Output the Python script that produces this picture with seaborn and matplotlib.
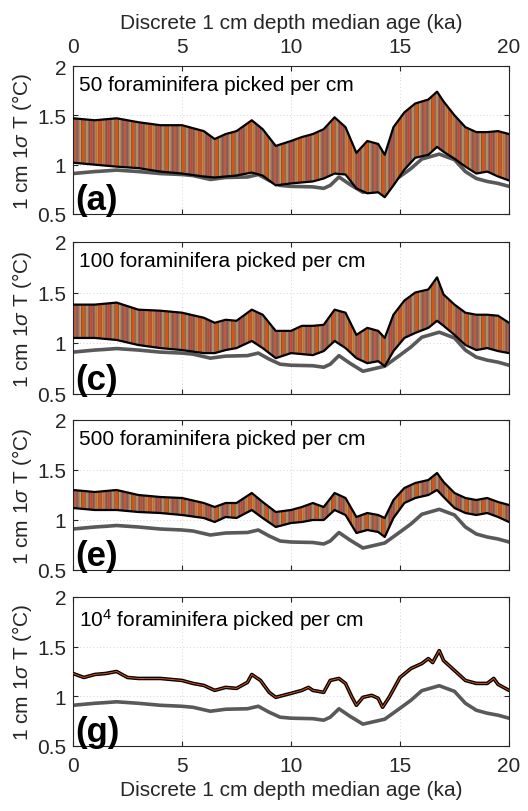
import matplotlib
matplotlib.use("Agg")
import pandas as pd
import matplotlib.pyplot as plt
import seaborn as sns

# ages (ka) at which the ensemble envelopes were read
age = [0, 1, 2, 3, 4, 5, 6, 6.5, 7, 7.5, 8.2, 8.7, 9.3, 10, 10.5, 11, 11.5, 12,
       12.5, 13, 13.5, 14, 14.3, 14.7, 15.2, 15.7, 16.3, 16.7, 17, 17.5, 18,
       18.5, 19, 19.5, 20]

# (a) 50 foraminifera
upper_a = [1.47, 1.45, 1.47, 1.43, 1.40, 1.40, 1.34, 1.26, 1.31, 1.34, 1.45,
           1.36, 1.19, 1.24, 1.28, 1.31, 1.36, 1.48, 1.38, 1.12, 1.24, 1.21,
           1.10, 1.38, 1.53, 1.62, 1.66, 1.74, 1.64, 1.50, 1.38, 1.33, 1.33,
           1.34, 1.31]
lower_a = [1.02, 1.00, 0.98, 0.965, 0.93, 0.91, 0.88, 0.87, 0.88, 0.89, 0.92,
           0.89, 0.79, 0.81, 0.82, 0.83, 0.86, 0.91, 0.90, 0.76, 0.71, 0.72,
           0.67, 0.79, 0.95, 1.07, 1.10, 1.18, 1.13, 1.06, 0.98, 0.91, 0.93,
           0.88, 0.84]

# (c) 100 foraminifera
upper_c = [1.38, 1.38, 1.40, 1.33, 1.32, 1.30, 1.25, 1.20, 1.23, 1.22, 1.33,
           1.28, 1.12, 1.12, 1.17, 1.17, 1.18, 1.33, 1.30, 1.08, 1.15, 1.12,
           1.05, 1.28, 1.42, 1.50, 1.53, 1.65, 1.48, 1.38, 1.30, 1.28, 1.28,
           1.27, 1.20]
lower_c = [1.05, 1.05, 1.03, 0.98, 0.95, 0.93, 0.90, 0.90, 0.93, 0.95, 1.02,
           0.95, 0.85, 0.90, 0.89, 0.88, 0.92, 1.02, 0.95, 0.85, 0.80, 0.82,
           0.77, 0.92, 1.05, 1.10, 1.15, 1.22, 1.17, 1.08, 0.98, 0.93, 0.95,
           0.92, 0.90]

# (e) 500 foraminifera
upper_e = [1.30, 1.28, 1.30, 1.25, 1.23, 1.22, 1.17, 1.13, 1.17, 1.17, 1.27,
           1.18, 1.08, 1.10, 1.13, 1.17, 1.13, 1.27, 1.22, 1.03, 1.07, 1.05,
           1.02, 1.20, 1.32, 1.37, 1.40, 1.47, 1.38, 1.27, 1.22, 1.20, 1.22,
           1.18, 1.15]
lower_e = [1.12, 1.10, 1.10, 1.08, 1.07, 1.05, 1.02, 0.98, 1.03, 1.02, 1.10,
           1.02, 0.93, 0.97, 0.98, 1.00, 1.00, 1.10, 1.05, 0.87, 0.90, 0.88,
           0.83, 1.02, 1.17, 1.22, 1.25, 1.30, 1.23, 1.12, 1.07, 1.05, 1.07,
           1.03, 0.98]

# (g) 10^4 foraminifera (ensemble collapses to one trace)
age_g = [0, 0.5, 1, 1.5, 2, 2.5, 3, 4, 5, 5.5, 6, 6.5, 7, 7.5, 8, 8.2, 8.6, 9,
         9.3, 10, 10.5, 10.8, 11, 11.5, 11.8, 12.2, 12.5, 12.8, 13, 13.3, 13.7,
         14, 14.2, 14.5, 15, 15.5, 16, 16.3, 16.5, 16.8, 17, 17.5, 18, 18.5,
         19, 19.3, 19.5, 20]
line_g = [1.23, 1.19, 1.22, 1.23, 1.25, 1.19, 1.18, 1.18, 1.16, 1.13, 1.11,
          1.06, 1.09, 1.08, 1.14, 1.22, 1.16, 1.04, 0.99, 1.03, 1.06, 1.09,
          1.06, 1.04, 1.16, 1.18, 1.13, 0.99, 0.91, 0.99, 1.01, 0.98, 0.89,
          0.99, 1.19, 1.28, 1.33, 1.38, 1.34, 1.46, 1.36, 1.26, 1.16, 1.13,
          1.13, 1.18, 1.12, 1.06]

# reference (gray) curve, identical in every panel
age_ref = [0, 1, 1.5, 2, 3, 4, 5, 5.5, 6.3, 7, 8, 8.5, 9, 9.5, 10, 11, 11.5,
           11.8, 12.2, 12.7, 13.3, 14.3, 15, 15.5, 16, 16.8, 17.5, 18, 18.5,
           19, 19.5, 20]
ref_line = [0.91, 0.93, 0.937, 0.945, 0.93, 0.91, 0.90, 0.89, 0.85, 0.87,
            0.875, 0.90, 0.84, 0.79, 0.78, 0.775, 0.76, 0.79, 0.875, 0.80,
            0.72, 0.77, 0.88, 0.96, 1.057, 1.107, 1.05, 0.93, 0.86, 0.83,
            0.81, 0.78]

notes = ["50 foraminifera picked per cm", "100 foraminifera picked per cm",
         "500 foraminifera picked per cm", "10$^4$ foraminifera picked per cm"]
letters = ["(a)", "(c)", "(e)", "(g)"]

# MATLAB default line colours for the ensemble members
ORANGE = "#D95319"
HATCH_STYLE = [("#0072BD", "||||"), ("#EDB120", "|||"),
               ("#4DBEEE", "||"), ("#7E2F8E", "|")]
AX_COLOR = "#262626"
FS = 15

sns.set_theme(style="ticks")
plt.rcParams["font.family"] = ["Liberation Sans", "DejaVu Sans"]
plt.rcParams["mathtext.fontset"] = "custom"
plt.rcParams["mathtext.rm"] = "Liberation Sans"
plt.rcParams["mathtext.it"] = "Liberation Sans:italic"
plt.rcParams["hatch.linewidth"] = 0.5

fig = plt.figure(figsize=(5.28, 8.12), dpi=100)
left, width = 73 / 528, 436 / 528
boxes = [(67, 215), (243, 394.5), (421, 571), (598, 747)]

ref_df = pd.DataFrame({"age": age_ref, "sd": ref_line})
env = [(upper_a, lower_a), (upper_c, lower_c), (upper_e, lower_e)]

for i, (top, bot) in enumerate(boxes):
    ax = fig.add_axes([left, 1 - bot / 812, width, (bot - top) / 812])

    sns.lineplot(data=ref_df, x="age", y="sd", color="#595959", lw=2.6,
                 ax=ax, zorder=1.5, sort=False, estimator=None)

    if i < 3:
        upper, lower = env[i]
        ax.fill_between(age, lower, upper, color=ORANGE, lw=0, zorder=2)
        for col, hatch in HATCH_STYLE:
            ax.fill_between(age, lower, upper, facecolor="none", edgecolor=col,
                            hatch=hatch, lw=0, zorder=2)
        df = pd.DataFrame({"age": age, "upper": upper, "lower": lower})
        for key in ["upper", "lower"]:
            sns.lineplot(data=df, x="age", y=key, color="black", lw=1.6,
                         ax=ax, zorder=3, sort=False, estimator=None)
    else:
        df = pd.DataFrame({"age": age_g, "sd": line_g})
        sns.lineplot(data=df, x="age", y="sd", color="black", lw=2.6,
                     ax=ax, zorder=3, sort=False, estimator=None)
        sns.lineplot(data=df, x="age", y="sd", color=ORANGE, lw=0.7,
                     ax=ax, zorder=3.5, sort=False, estimator=None)

    ax.set_xlim(0, 20)
    ax.set_ylim(0.5, 2)
    ax.set_xticks([0, 5, 10, 15, 20])
    ax.set_yticks([0.5, 1, 1.5, 2])
    ax.set_yticklabels(["0.5", "1", "1.5", "2"])
    ax.grid(True, ls=(0, (1, 3)), lw=0.6, color="#c8c8c8")
    ax.set_axisbelow(True)
    for sp in ax.spines.values():
        sp.set_visible(True)
        sp.set_color(AX_COLOR)
        sp.set_linewidth(0.8)
    ax.tick_params(direction="in", length=3.5, width=0.8, colors=AX_COLOR,
                   labelsize=FS, top=True, right=True, bottom=True, left=True)
    ax.tick_params(axis="y", pad=5)
    ax.set_ylabel(r"1 cm 1$\sigma$ T (°C)", fontsize=FS, color=AX_COLOR,
                  labelpad=2)

    if i == 0:
        ax.tick_params(axis="x", labeltop=True, labelbottom=False, pad=7)
        ax.xaxis.set_label_position("top")
        ax.set_xlabel("Discrete 1 cm depth median age (ka)", fontsize=FS,
                      color=AX_COLOR, labelpad=7)
    elif i == 3:
        ax.tick_params(axis="x", labeltop=False, labelbottom=True, pad=7)
        ax.set_xlabel("Discrete 1 cm depth median age (ka)", fontsize=FS,
                      color=AX_COLOR, labelpad=4)
    else:
        ax.tick_params(axis="x", labeltop=False, labelbottom=False)
        ax.set_xlabel("")

    ax.text(0.014, 0.94, notes[i], transform=ax.transAxes, fontsize=FS,
            va="top", ha="left", color="black", zorder=5)
    ax.text(0.006, -0.015, letters[i], transform=ax.transAxes, fontsize=25,
            fontweight="bold", va="bottom", ha="left", color="black", zorder=5)

fig.savefig("out.png", dpi=100)
